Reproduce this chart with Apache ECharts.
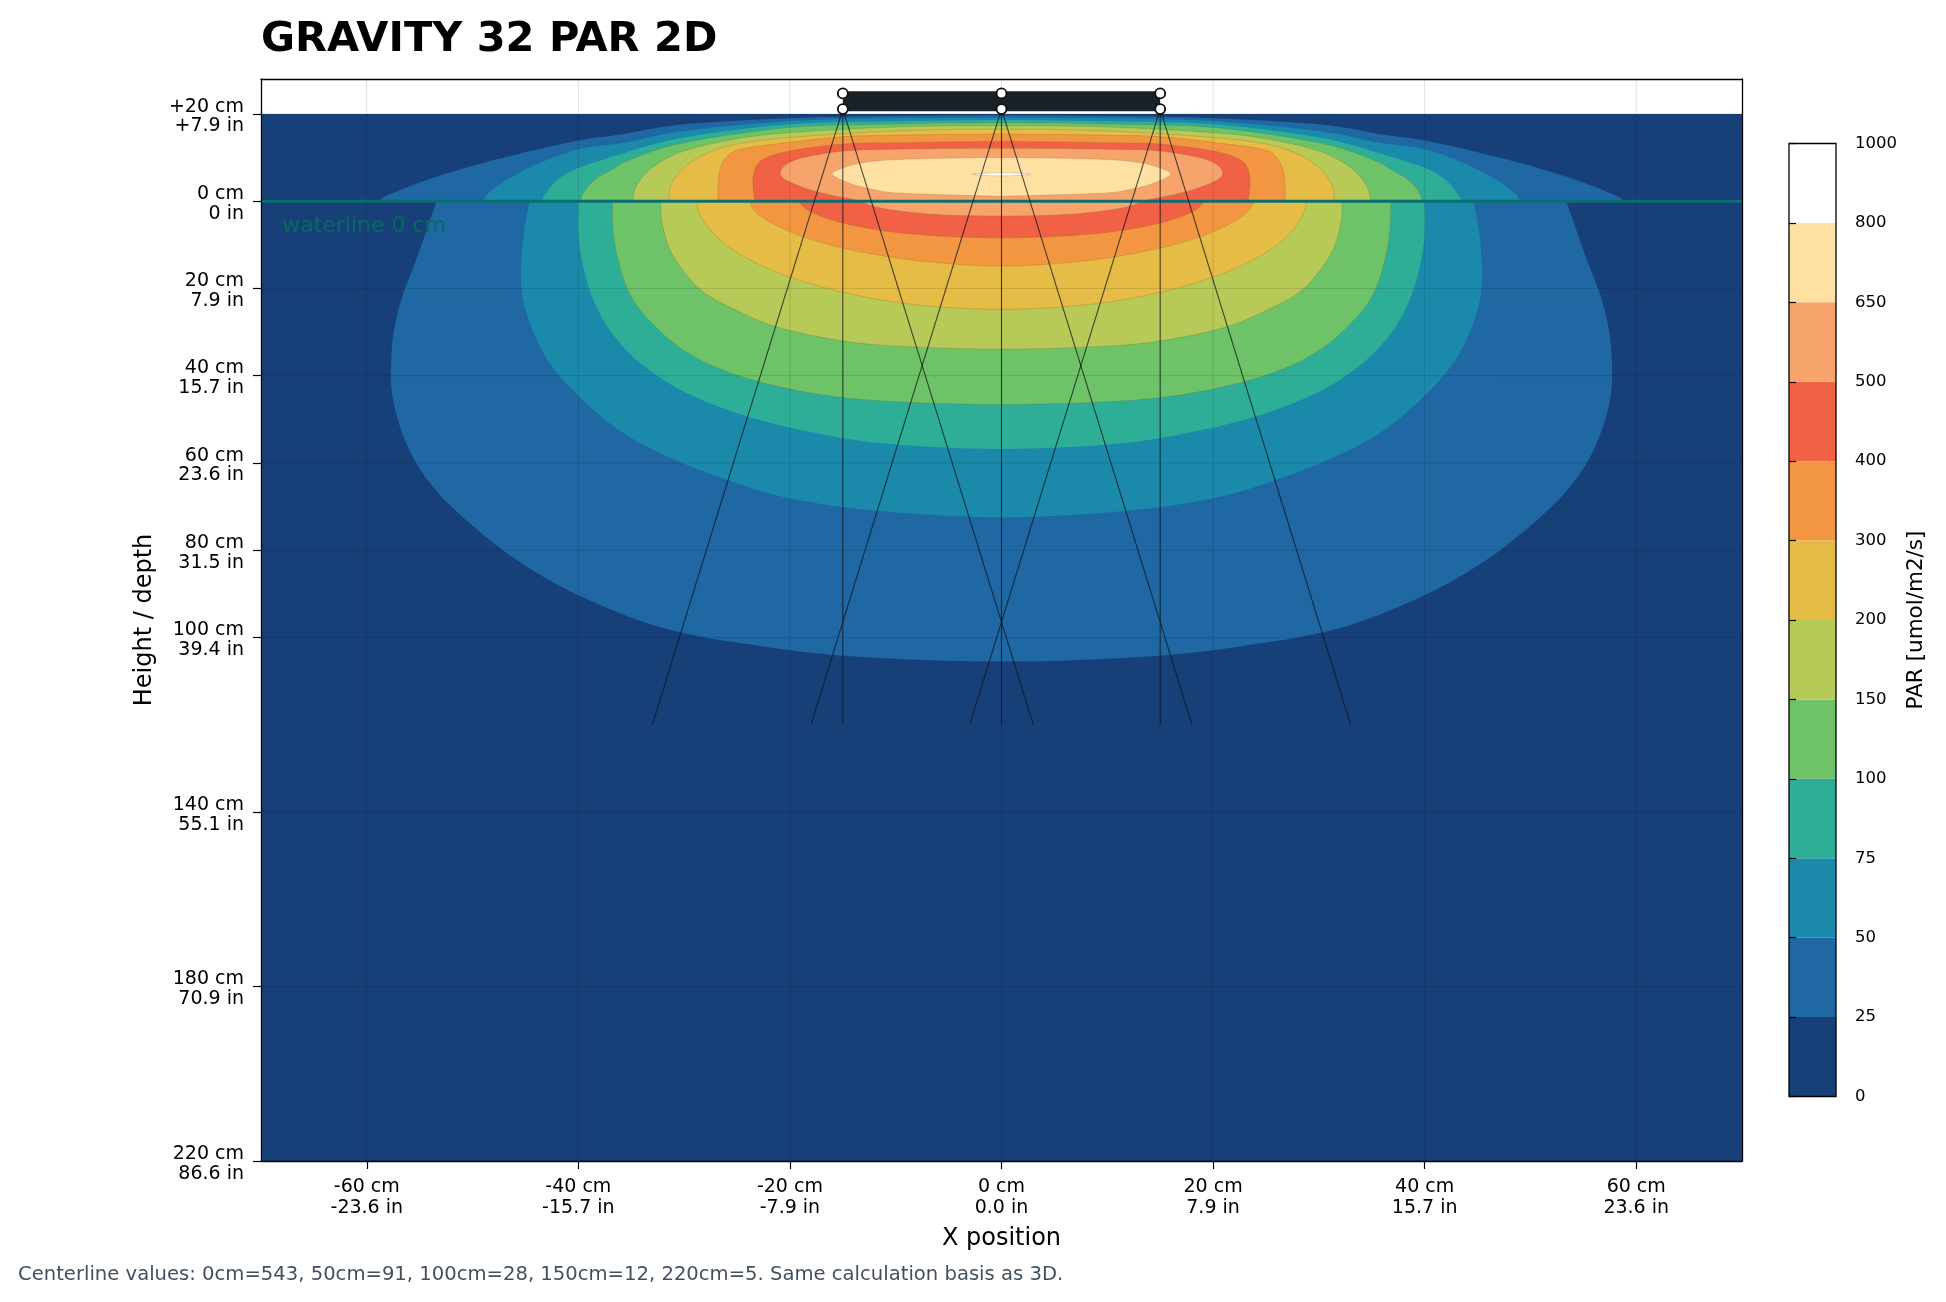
<!DOCTYPE html>
<html><head><meta charset="utf-8">
<script src="https://cdn.jsdelivr.net/npm/echarts@6/dist/echarts.min.js"></script>
<style>html,body{margin:0;padding:0;background:#fff}#c{width:1946px;height:1302px}</style>
</head><body><div id="c"></div>
<script>
// ---- data ----
const levels = [0, 25, 50, 75, 100, 150, 200, 300, 400, 500, 650, 800, 1000];
const bandColors = ['#184078','#1f68a3','#1b8aaa','#2fae97','#6ec268','#b7c956','#e4bc46','#f29642','#f06146','#f6a46c','#fde0a2','#ffffff'];

// Right-half contour boundaries [x cm, depth cm] (negative depth = above the waterline), one per level 25..800
const airEdges = [
  [[0,-19.7],[10,-19.5],[20,-19.0],[30,-17.6],[35.7,-15.4],[40,-13.9],[45.2,-11.1],[50,-8.1],[54.6,-4.6],[58.3,-1.0],[58.6,0]],
  [[0,-19.2],[10,-19.0],[20,-18.4],[30,-16.1],[35.7,-13.4],[40,-11.9],[43.6,-8.8],[46.1,-5.8],[48.1,-2.7],[48.8,-1.0],[48.9,0]],
  [[0,-18.6],[10,-18.3],[20,-17.6],[30,-14.6],[35.7,-11.0],[40,-7.6],[42,-4.8],[43.3,-1.0],[43.4,0]],
  [[0,-18.0],[10,-17.7],[20,-16.9],[30,-13.4],[35,-9.6],[37,-7.0],[38.5,-4.8],[39.5,-2.0],[39.8,0]],
  [[0,-17.3],[10,-17.0],[20,-15.7],[25,-14.3],[30,-11.5],[33,-7.7],[34.5,-3.5],[34.9,0]],
  [[0,-16.5],[10,-16.1],[20,-14.6],[25,-13.1],[28,-10.8],[30,-7.7],[31.2,-3.9],[31.5,0]],
  [[0,-15.4],[10,-15.1],[14.9,-14.8],[20.3,-13.4],[24.7,-11.9],[26,-10],[26.6,-7.3],[26.8,-3.5],[26.8,0]],
  [[0,-13.7],[10,-13.4],[14.9,-13.1],[20,-11.5],[22.5,-9.6],[23.3,-7.3],[23.5,-4.3],[23.4,-1.6],[23.3,0]],
  [[0,-12.1],[10,-11.9],[14.9,-11.5],[18.7,-10.0],[20.3,-8.5],[20.9,-6.6],[20.5,-5.0],[18.7,-3.1],[16.5,-1.6],[14,-0.4],[13.4,0]],
  [[0,-10.0],[9.3,-9.6],[13,-8.85],[14.9,-7.7],[16.0,-6.2],[14.6,-4.3],[12.4,-2.8],[9.3,-1.8],[0,-1.1]],
  [[0,-6.5],[1.5,-6.4],[2.8,-6.15],[1.5,-5.9],[0,-5.8]]
];
const waterEdges = [
  [[53.4,0],[54.3,6.3],[55.4,13.9],[56.6,21.5],[57.4,29.2],[57.7,36.8],[57.6,44.4],[56.8,52.1],[55.4,59.7],[53.1,67.3],[49.7,75],[45.6,82.6],[40.1,90.2],[31.9,97.9],[22.7,102],[13.5,104.4],[0,105.5]],
  [[44.6,0],[45.1,6.3],[45.4,13.9],[45.3,21.5],[44.4,29.2],[42.8,36.8],[40.1,44.4],[36.4,52.1],[31.9,58.2],[26.4,63.5],[20,68.1],[11.3,71.1],[0,72.5]],
  [[40,0],[40,7.8],[39.5,15.4],[38.5,23.1],[36.7,30.7],[33.9,37.6],[30,43.7],[25,48.6],[19,52.4],[11.3,55.5],[0,56.8]],
  [[36.8,0],[36.7,7],[36.2,13.9],[35.1,21.5],[33.2,27.6],[30.5,33.4],[26.8,38.3],[21.8,42.1],[15.8,44.8],[9,46.1],[0,46.6]],
  [[32.2,0],[32.1,4.7],[31.4,10.8],[30,16.2],[28.2,20.8],[25.4,24.6],[21.8,28.4],[17.2,31.1],[11.3,33],[0,33.9]],
  [[28.9,0],[28.3,4],[26.8,8.5],[24.5,12.5],[21,16.5],[16.5,20],[11,22.8],[5.5,24.3],[0,24.8]],
  [[23.9,0],[23,3],[20.5,6.5],[17,9.5],[12.5,12],[7,13.9],[0,14.9]],
  [[19.2,0],[18,2.5],[15,5],[10.5,7],[5,8.1],[0,8.4]],
  [[13.4,0],[11.5,1.5],[8,2.7],[4,3.3],[0,3.4]],
  [],
  []
];

const xTickValues = [-60, -40, -20, 0, 20, 40, 60];
const xTickLabels = ['-60 cm\n-23.6 in','-40 cm\n-15.7 in','-20 cm\n-7.9 in','0 cm\n0.0 in','20 cm\n7.9 in','40 cm\n15.7 in','60 cm\n23.6 in'];
const yTickValues = [-20, 0, 20, 40, 60, 80, 100, 140, 180, 220];
const yTickLabelsCm = ['+20 cm','0 cm','20 cm','40 cm','60 cm','80 cm','100 cm','140 cm','180 cm','220 cm'];
const yTickLabelsIn = ['+7.9 in','0 in','7.9 in','15.7 in','23.6 in','31.5 in','39.4 in','55.1 in','70.9 in','86.6 in'];

const axisX = [-70, 70];
const axisDepth = [-28, 220];
const fieldX = [-70, 70];
const fieldDepth = [-20, 220];
const waterlineDepth = 0;
const waterLabel = 'waterline 0 cm';
const waterLabelPos = [-68, 5.7];

const fixtureX = [-15, 0, 15];
const fixtureBarDepth = [-25.2, -20.6];
const fixtureMarkerDepth = [-24.7, -21.1];
const raySourceX = [-15, -15, -15, 0, 0, 0, 15, 15, 15];
const rayEndX = [-33, -15, 3, -18, 0, 18, -3, 15, 33];
const raySourceDepth = -21.1;
const rayEndDepth = 120;

const titleText = 'GRAVITY 32 PAR 2D';
const footText = 'Centerline values: 0cm=543, 50cm=91, 100cm=28, 150cm=12, 220cm=5. Same calculation basis as 3D.';

// ---- chart ----
const FONT = 'DejaVu Sans';
const chart = echarts.init(document.getElementById('c'), null, {width: 1946, height: 1302});

function mirrorRev(list) { return list.map(p => [-p[0], p[1]]).reverse(); }
function dedupe(list) { return list.filter((p, i) => i === 0 || p[0] !== list[i - 1][0] || p[1] !== list[i - 1][1]); }
// smooth curve (Catmull-Rom drawn as cubic Bezier) through screen points
function curveThrough(pts) {
  let d = '';
  for (let i = 0; i < pts.length - 1; i++) {
    const p0 = pts[Math.max(i - 1, 0)], p1 = pts[i], p2 = pts[i + 1], p3 = pts[Math.min(i + 2, pts.length - 1)];
    const c1x = p1[0] + (p2[0] - p0[0]) / 6, c1y = p1[1] + (p2[1] - p0[1]) / 6;
    const c2x = p2[0] - (p3[0] - p1[0]) / 6, c2y = p2[1] - (p3[1] - p1[1]) / 6;
    d += ` C${c1x},${c1y} ${c2x},${c2y} ${p2[0]},${p2[1]}`;
  }
  return d;
}

const frameLine = {show: true, onZero: false, lineStyle: {color: '#000', width: 1.3}};

const option = {
  animation: false,
  backgroundColor: '#fff',
  textStyle: {fontFamily: FONT},
  title: [
    {text: titleText, left: 261, top: 19, padding: 0,
     textStyle: {fontFamily: FONT, fontSize: 41.5, fontWeight: 'bold', color: '#000'}},
    {text: footText, left: 18, top: 1265, padding: 0,
     textStyle: {fontFamily: FONT, fontSize: 19.6, fontWeight: 'normal', color: '#44505c'}}
  ],
  grid: [
    {left: 261, top: 79, width: 1481, height: 1082, outerBoundsMode: 'none', containLabel: false},
    {left: 1789, top: 143.5, width: 47, height: 953, outerBoundsMode: 'none', containLabel: false}
  ],
  xAxis: [
    {type: 'value', gridIndex: 0, min: axisX[0], max: axisX[1], position: 'bottom', z: 10,
     axisLine: frameLine,
     axisTick: {show: true, customValues: xTickValues, length: 8, lineStyle: {color: '#000', width: 1.2}},
     axisLabel: {show: true, customValues: xTickValues, margin: 15, fontSize: 19, lineHeight: 21.5, color: '#000', fontFamily: FONT,
       formatter: v => xTickLabels[xTickValues.indexOf(v)]},
     splitLine: {show: false},
     name: 'X position', nameLocation: 'middle', nameGap: 66,
     nameTextStyle: {fontSize: 24, color: '#000', fontFamily: FONT}},
    {type: 'value', gridIndex: 0, min: axisX[0], max: axisX[1], position: 'top', z: 10,
     axisLine: frameLine, axisTick: {show: false}, axisLabel: {show: false}, splitLine: {show: false}},
    {type: 'value', gridIndex: 1, min: 0, max: 1, show: false}
  ],
  yAxis: [
    {type: 'value', gridIndex: 0, min: axisDepth[0], max: axisDepth[1], inverse: true, position: 'left', z: 10,
     axisLine: frameLine,
     axisTick: {show: true, customValues: yTickValues, length: 8, lineStyle: {color: '#000', width: 1.2}},
     axisLabel: {show: false},
     splitLine: {show: false},
     name: 'Height / depth', nameLocation: 'middle', nameGap: 104, nameRotate: 90,
     nameTextStyle: {fontSize: 24, color: '#000', fontFamily: FONT}},
    {type: 'value', gridIndex: 0, min: axisDepth[0], max: axisDepth[1], inverse: true, position: 'right', z: 10,
     axisLine: frameLine, axisTick: {show: false}, axisLabel: {show: false}, splitLine: {show: false}},
    {type: 'value', gridIndex: 1, min: 0, max: levels.length - 1, interval: 1, position: 'right', z: 10,
     axisLine: {show: false},
     axisTick: {show: true, length: 7, lineStyle: {color: '#000', width: 1.2}},
     axisLabel: {show: true, margin: 19, fontSize: 16.5, color: '#000', fontFamily: FONT, showMinLabel: true, showMaxLabel: true,
       formatter: v => String(levels[v])},
     splitLine: {show: false},
     name: 'PAR [umol/m2/s]', nameLocation: 'middle', nameGap: 69, nameRotate: 90,
     nameTextStyle: {fontSize: 21.5, color: '#000', fontFamily: FONT}}
  ],
  series: [
    // field background (lowest band)
    {type: 'custom', xAxisIndex: 0, yAxisIndex: 0, z: 1, silent: true, clip: true,
     data: [[fieldX[0], fieldDepth[0]]],
     renderItem(p, api) {
       const a = api.coord([fieldX[0], fieldDepth[0]]), b = api.coord([fieldX[1], fieldDepth[1]]);
       return {type: 'rect', shape: {x: a[0], y: a[1], width: b[0] - a[0], height: b[1] - a[1]}, style: {fill: bandColors[0]}};
     }},
    // filled contour bands
    {type: 'custom', xAxisIndex: 0, yAxisIndex: 0, z: 2, silent: true, clip: true,
     data: airEdges.map((_, i) => [0, 0, i]),
     renderItem(p, api) {
       const i = api.value(2);
       const a = airEdges[i], w = waterEdges[i];
       const airPts = dedupe(mirrorRev(a).concat(a)).map(q => api.coord(q));
       let d = `M${airPts[0][0]},${airPts[0][1]}` + curveThrough(airPts);
       if (w.length) {
         const wPts = dedupe(w.concat(mirrorRev(w))).map(q => api.coord(q));
         d += ` L${wPts[0][0]},${wPts[0][1]}` + curveThrough(wPts);
       }
       d += ' Z';
       const lvl = levels[i + 1];
       return {type: 'path', shape: {pathData: d},
         style: {fill: bandColors[i + 1], stroke: lvl >= 100 ? 'rgba(120,85,30,0.28)' : 'rgba(0,0,0,0)', lineWidth: 0.8}};
     }},
    // grid lines
    {type: 'custom', xAxisIndex: 0, yAxisIndex: 0, z: 3, silent: true, clip: true,
     data: xTickValues.map(v => [v, 0, 0]).concat(yTickValues.map(v => [0, v, 1])),
     renderItem(p, api) {
       const vert = api.value(2) === 0;
       const a = vert ? api.coord([api.value(0), axisDepth[0]]) : api.coord([axisX[0], api.value(1)]);
       const b = vert ? api.coord([api.value(0), axisDepth[1]]) : api.coord([axisX[1], api.value(1)]);
       return {type: 'line', shape: {x1: a[0], y1: a[1], x2: b[0], y2: b[1]}, style: {stroke: 'rgba(0,0,0,0.12)', lineWidth: 1}};
     }},
    // waterline
    {type: 'custom', xAxisIndex: 0, yAxisIndex: 0, z: 4, silent: true, clip: true,
     data: [[0, waterlineDepth]],
     renderItem(p, api) {
       const a = api.coord([axisX[0], waterlineDepth]), b = api.coord([axisX[1], waterlineDepth]);
       return {type: 'line', shape: {x1: a[0], y1: a[1], x2: b[0], y2: b[1]}, style: {stroke: '#0a6e72', lineWidth: 3}};
     }},
    // rays
    {type: 'custom', xAxisIndex: 0, yAxisIndex: 0, z: 5, silent: true, clip: true,
     data: raySourceX.map((x, i) => [x, raySourceDepth, rayEndX[i], rayEndDepth]),
     renderItem(p, api) {
       const a = api.coord([api.value(0), api.value(1)]), b = api.coord([api.value(2), api.value(3)]);
       return {type: 'line', shape: {x1: a[0], y1: a[1], x2: b[0], y2: b[1]}, style: {stroke: 'rgba(15,20,25,0.75)', lineWidth: 1.1}};
     }},
    // fixture bar
    {type: 'custom', xAxisIndex: 0, yAxisIndex: 0, z: 6, silent: true, clip: true,
     data: [[fixtureX[0], fixtureBarDepth[0]]],
     renderItem(p, api) {
       const a = api.coord([fixtureX[0], fixtureBarDepth[0]]), b = api.coord([fixtureX[fixtureX.length - 1], fixtureBarDepth[1]]);
       return {type: 'rect', shape: {x: a[0], y: a[1], width: b[0] - a[0], height: b[1] - a[1]}, style: {fill: '#1b2227'}};
     }},
    // fixture markers
    {type: 'scatter', xAxisIndex: 0, yAxisIndex: 0, z: 7, silent: true,
     symbol: 'circle', symbolSize: 10,
     itemStyle: {color: '#ffffff', borderColor: '#111', borderWidth: 1.9, opacity: 1},
     data: fixtureMarkerDepth.flatMap(d => fixtureX.map(x => [x, d]))},
    // waterline label
    {type: 'custom', xAxisIndex: 0, yAxisIndex: 0, z: 8, silent: true, clip: true,
     data: [waterLabelPos],
     renderItem(p, api) {
       const a = api.coord(waterLabelPos);
       return {type: 'text', x: a[0], y: a[1],
         style: {text: waterLabel, fill: '#07695f', font: '22px "DejaVu Sans"', align: 'left', verticalAlign: 'middle'}};
     }},
    // y-axis tick labels (cm line above, inch line below), placed at the axis ticks
    {type: 'custom', xAxisIndex: 0, yAxisIndex: 0, z: 10, silent: true, clip: false,
     data: yTickValues.map((v, i) => [axisX[0], v, i]),
     renderItem(p, api) {
       const a = api.coord([axisX[0], api.value(1)]);
       const i = api.value(2);
       const st = {fill: '#000', font: '19px "DejaVu Sans"', align: 'right', verticalAlign: 'middle'};
       return {type: 'group', children: [
         {type: 'text', x: a[0] - 17, y: a[1] - 7.3, style: Object.assign({text: yTickLabelsCm[i]}, st)},
         {type: 'text', x: a[0] - 17, y: a[1] + 12.6, style: Object.assign({text: yTickLabelsIn[i]}, st)}
       ]};
     }},
    // colorbar blocks
    {type: 'custom', xAxisIndex: 2, yAxisIndex: 2, z: 2, silent: true,
     data: bandColors.map((c, i) => [0, i, i]),
     renderItem(p, api) {
       const i = api.value(2);
       const a = api.coord([0, i + 1]), b = api.coord([1, i]);
       return {type: 'rect', shape: {x: a[0], y: a[1], width: b[0] - a[0], height: b[1] - a[1]}, style: {fill: bandColors[i]}};
     }},
    // colorbar outline
    {type: 'custom', xAxisIndex: 2, yAxisIndex: 2, z: 3, silent: true,
     data: [[0, 0]],
     renderItem(p, api) {
       const a = api.coord([0, levels.length - 1]), b = api.coord([1, 0]);
       return {type: 'rect', shape: {x: a[0], y: a[1], width: b[0] - a[0], height: b[1] - a[1]}, style: {fill: 'none', stroke: '#000', lineWidth: 1.3}};
     }}
  ]
};
chart.setOption(option);
</script>
</body></html>
